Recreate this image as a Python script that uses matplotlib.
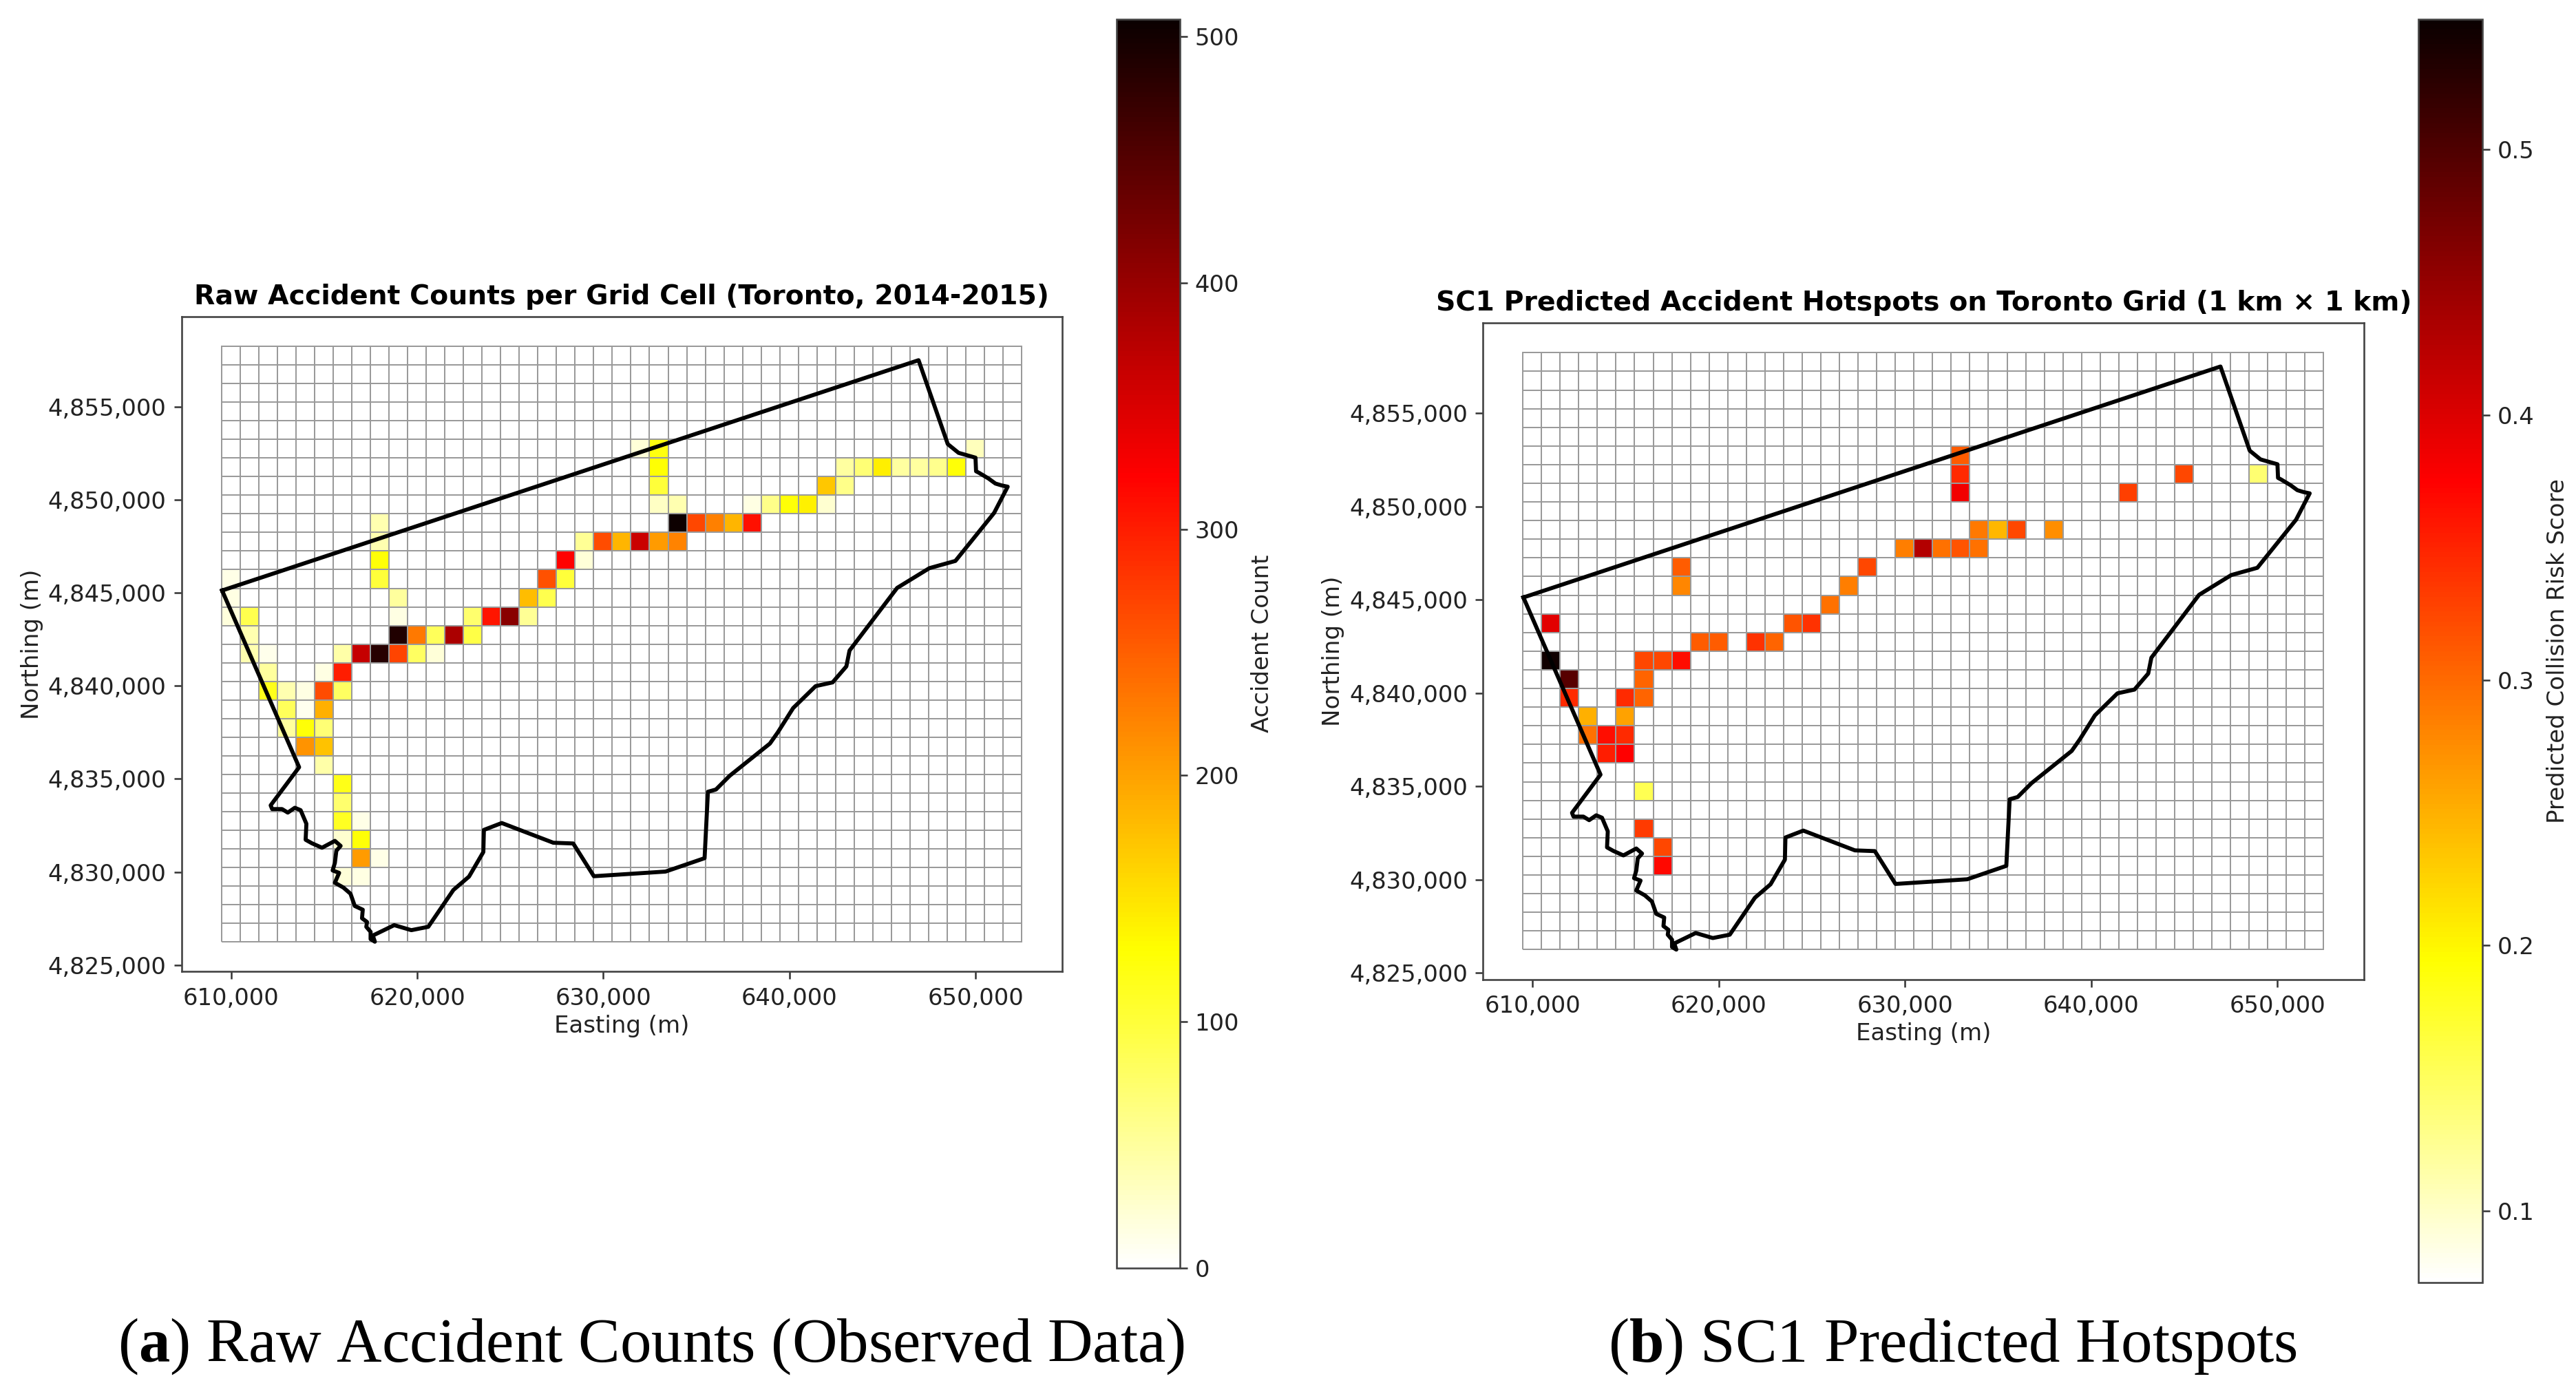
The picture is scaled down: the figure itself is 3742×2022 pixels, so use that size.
import numpy as np
import matplotlib.pyplot as plt
from matplotlib.ticker import FuncFormatter

plt.rcParams['font.family'] = ['DejaVu Sans']
plt.rcParams['mathtext.fontset'] = 'custom'
plt.rcParams['mathtext.rm'] = 'Liberation Serif'
plt.rcParams['mathtext.bf'] = 'Liberation Serif:bold'

W, H = 3742, 2022

# raw accident counts: grid column, grid row (0 = top row), count
raw_cols = [8, 8, 19, 20, 21, 8, 18, 19, 0, 8, 17, 18, 0, 9, 16, 17, 0, 1, 9, 13, 14, 15, 16,
            1, 9, 10, 11, 12, 13, 1, 2, 6, 7, 8, 9, 10, 11, 2, 5, 6, 2, 3, 4, 5, 6, 3, 4, 5,
            3, 4, 5, 4, 5, 5, 6, 6, 6, 7, 6, 7, 7, 8, 6, 7,
            22, 23, 40, 23, 33, 34, 35, 36, 37, 38, 39, 23, 32, 33, 23, 24, 28, 29, 30, 31, 32,
            24, 25, 26, 27, 28, 19, 20, 21, 22, 23, 24, 19]
raw_rows = [9, 10, 10, 10, 10, 11, 11, 11, 12, 12, 12, 12, 13, 13, 13, 13, 14, 14, 14, 14, 14, 14, 14,
            15, 15, 15, 15, 15, 15, 16, 16, 16, 16, 16, 16, 16, 16, 17, 17, 17, 18, 18, 18, 18, 18, 19, 19, 19,
            20, 20, 20, 21, 21, 22, 23, 24, 25, 25, 26, 26, 27, 27, 28, 28,
            5, 5, 5, 6, 6, 6, 6, 6, 6, 6, 6, 7, 7, 7, 8, 8, 8, 8, 8, 8, 8,
            9, 9, 9, 9, 9, 10, 10, 10, 10, 10, 10, 11]
raw_counts = [40, 40, 45, 265, 185, 125, 320, 25, 12, 100, 260, 100, 15, 50, 180, 90, 18, 90, 15, 75, 305, 410, 55,
              40, 490, 230, 85, 385, 95, 40, 10, 45, 365, 485, 270, 80, 20, 50, 15, 300, 115, 40, 15, 265, 80, 85, 8, 190,
              50, 125, 70, 210, 175, 45, 118, 75, 112, 12, 25, 125, 205, 12, 20, 15,
              20, 122, 35, 128, 48, 70, 142, 48, 48, 58, 126, 100, 172, 60, 30, 40, 15, 60, 126, 140, 25,
              505, 268, 225, 185, 310, 55, 265, 185, 362, 205, 222, 20]

# SC1 predicted risk scores
sc1_cols = [20, 21, 8, 18, 8, 17, 16, 1, 14, 15, 9, 10, 12, 13, 1, 6, 7, 8, 2, 6, 2, 5, 6, 3, 5,
            3, 4, 5, 4, 5, 6, 6, 7, 7, 23, 23, 35, 39, 23, 32, 24, 25, 26, 28, 22, 23, 24]
sc1_rows = [10, 10, 11, 11, 12, 12, 13, 14, 14, 14, 15, 15, 15, 15, 16, 16, 16, 16, 17, 17, 18, 18, 18, 19, 19,
            20, 20, 20, 21, 21, 23, 25, 26, 27, 5, 6, 6, 6, 7, 7, 9, 9, 9, 9, 10, 10, 10]
sc1_scores = [0.285, 0.43, 0.31, 0.325, 0.28, 0.285, 0.295, 0.395, 0.315, 0.34, 0.31, 0.31, 0.34, 0.305, 0.545,
              0.325, 0.325, 0.365, 0.495, 0.305, 0.345, 0.345, 0.305, 0.25, 0.26,
              0.295, 0.365, 0.345, 0.355, 0.375, 0.155, 0.335, 0.325, 0.37, 0.31, 0.345, 0.325, 0.14,
              0.385, 0.33, 0.29, 0.245, 0.325, 0.275, 0.295, 0.315, 0.295]

# city boundary, km
boundary_e = [609.51, 613.65, 612.12, 612.2, 612.73, 613.04, 613.42, 613.73, 614.04, 614.0, 614.34, 614.88,
              615.57, 615.88, 615.65, 615.57, 615.45, 615.8, 615.57, 616.03, 616.41, 616.64, 617.07, 617.03,
              617.3, 617.26, 617.49, 617.49, 617.72, 617.61, 618.76, 619.68, 620.59, 621.94, 622.78, 623.55,
              623.58, 624.54, 627.31, 628.38, 629.49, 633.34, 635.44, 635.62, 636.05, 636.79, 638.95, 639.38,
              640.2, 641.41, 642.32, 643.06, 643.23, 645.79, 647.52, 648.92, 651.0, 651.73, 651.4, 651.07,
              650.7, 650.2, 650.03, 650.0, 649.09, 648.51, 646.94, 609.51]
boundary_n = [4845.13, 4835.63, 4833.58, 4833.38, 4833.38, 4833.19, 4833.45, 4833.32, 4832.59, 4831.73,
              4831.54, 4831.3, 4831.67, 4831.4, 4831.14, 4830.48, 4830.08, 4829.95, 4829.42, 4829.16,
              4828.83, 4828.17, 4827.97, 4827.51, 4827.31, 4827.05, 4826.78, 4826.39, 4826.25, 4826.58,
              4827.14, 4826.87, 4827.05, 4829.03, 4829.75, 4831.07, 4832.26, 4832.63, 4831.57, 4831.53,
              4829.77, 4830.02, 4830.74, 4834.31, 4834.43, 4835.17, 4836.9, 4837.51, 4838.81, 4839.99,
              4840.19, 4841.05, 4841.9, 4845.27, 4846.33, 4846.72, 4849.3, 4850.71, 4850.78, 4850.88,
              4851.15, 4851.45, 4851.54, 4852.27, 4852.53, 4853.0, 4857.51, 4845.13]

n_cols = 43
n_rows = 32
x_edges = (609.48 + np.arange(n_cols + 1)) * 1000
y_edges = (4826.25 + np.arange(n_rows + 1)) * 1000


def make_grid(cols, rows, values):
    grid = np.zeros((n_rows, n_cols))
    for c, r, v in zip(cols, rows, values):
        grid[n_rows - 1 - r, c] = v
    return grid


def box(left, top, right, bottom):
    return [left / W, 1 - bottom / H, (right - left) / W, (bottom - top) / H]


def draw_panel(fig, ax_box, cax_box, grid, vmin, vmax, title, cbar_label, cbar_ticks, labelpad):
    ax = fig.add_axes(box(*ax_box))
    mesh = ax.pcolormesh(x_edges, y_edges, grid, cmap='hot_r', vmin=vmin, vmax=vmax,
                         edgecolors='#9a9a9a', linewidth=1.3)
    ax.plot(np.array(boundary_e) * 1000, np.array(boundary_n) * 1000, color='black', linewidth=4.2)
    ax.set_xlim(607330, 654660)
    ax.set_ylim(4824640, 4859850)
    ax.set_xticks([610000, 620000, 630000, 640000, 650000])
    ax.set_yticks(np.arange(4825000, 4855001, 5000))
    fmt = FuncFormatter(lambda v, pos: f'{int(v):,}')
    ax.xaxis.set_major_formatter(fmt)
    ax.yaxis.set_major_formatter(fmt)
    ax.tick_params(labelsize=24.3, length=8, width=1.8, pad=8, color='#333333', labelcolor='#222222')
    ax.set_xlabel('Easting (m)', fontsize=24.5, color='#222222', labelpad=5)
    ax.set_ylabel('Northing (m)', fontsize=24.5, color='#222222', labelpad=5)
    ax.set_title(title, fontsize=28.4, fontweight='bold', pad=13)
    for s in ax.spines.values():
        s.set_linewidth(1.9)
        s.set_color('#444444')

    cax = fig.add_axes(box(*cax_box))
    cbar = fig.colorbar(mesh, cax=cax)
    cbar.set_ticks(cbar_ticks)
    cbar.ax.tick_params(labelsize=24.3, length=8, width=1.8, pad=8, color='#333333', labelcolor='#222222')
    cbar.set_label(cbar_label, fontsize=24.5, color='#222222', labelpad=labelpad)
    cbar.outline.set_linewidth(1.9)
    cbar.outline.set_edgecolor('#444444')
    return ax


fig = plt.figure(figsize=(W / 100, H / 100), dpi=100, facecolor='white')

raw_grid = make_grid(raw_cols, raw_rows, raw_counts)
sc1_grid = make_grid(sc1_cols, sc1_rows, sc1_scores)

draw_panel(fig, (263.7, 460, 1543, 1411.4), (1622, 28, 1713.5, 1842), raw_grid, 0, 507,
           'Raw Accident Counts per Grid Cell (Toronto, 2014-2015)', 'Accident Count',
           [0, 100, 200, 300, 400, 500], 12)
draw_panel(fig, (2154, 469, 3434.4, 1423), (3512.7, 28, 3606, 1863.3), sc1_grid, 0.0729, 0.5491,
           'SC1 Predicted Accident Hotspots on Toronto Grid (1 km × 1 km)', 'Predicted Collision Risk Score',
           [0.1, 0.2, 0.3, 0.4, 0.5], 12)

# sub-figure captions
fig.text(946 / W, 1 - 1978 / H, r'($\mathbf{a}$) Raw Accident Counts (Observed Data)', ha='center', va='baseline',
         family='Liberation Serif', fontsize=65.4, color='black')
fig.text(2836 / W, 1 - 1978 / H, r'($\mathbf{b}$) SC1 Predicted Hotspots', ha='center', va='baseline',
         family='Liberation Serif', fontsize=65.4, color='black')

fig.savefig('out.png', dpi=100)
